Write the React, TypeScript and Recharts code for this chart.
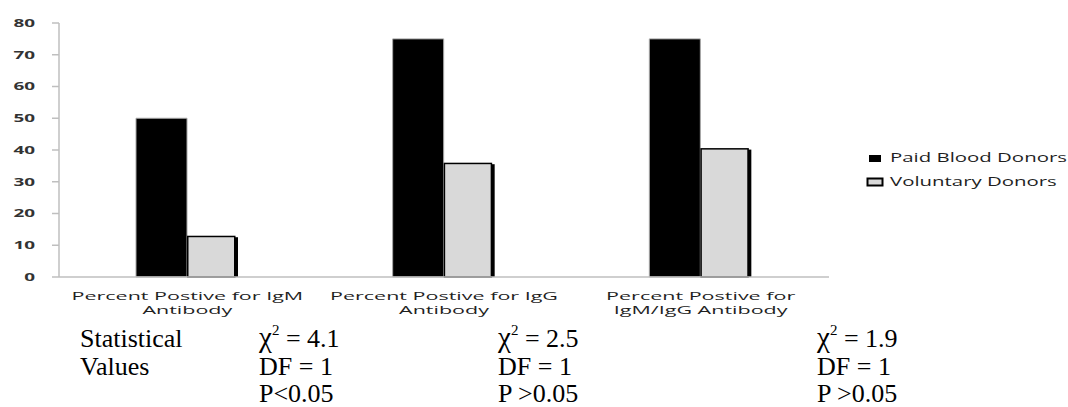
import React from 'react';
import { BarChart, Bar, XAxis, YAxis } from 'recharts';

const categories = [
  'Percent Postive for IgM Antibody',
  'Percent Postive for IgG Antibody',
  'Percent Postive for IgM/IgG Antibody',
];
const categoryLines = [
  ['Percent Postive for IgM', 'Antibody'],
  ['Percent Postive for IgG', 'Antibody'],
  ['Percent Postive for', 'IgM/IgG Antibody'],
];
const seriesNames = ['Paid Blood Donors', 'Voluntary Donors'];
const paidDonors = [50, 75, 75];
const voluntaryDonors = [13, 36, 40.6];
const yTicks = [0, 10, 20, 30, 40, 50, 60, 70, 80];

const statLabels = ['Statistical', 'Values'];
const chiSquare = ['4.1', '2.5', '1.9'];
const degreesOfFreedom = ['1', '1', '1'];
const pValues = ['P<0.05', 'P >0.05', 'P >0.05'];

const data = categories.map((name, i) => ({
  name,
  paid: paidDonors[i],
  voluntary: voluntaryDonors[i],
}));

const sansFont = "'Open Sans', 'DejaVu Sans', sans-serif";
const serifFont = "'Liberation Serif', 'Times New Roman', serif";

const CategoryTick = (props: any) => {
  const { x, y, index, payload } = props;
  const lines = categoryLines[index] ?? [payload.value];
  return (
    <g transform={`translate(${x},${y})`}>
      {lines.map((line: string, i: number) => (
        <text
          key={i}
          x={0}
          y={23 + i * 14}
          transform="scale(1.87,1)"
          textAnchor="middle"
          fontSize={11.5}
          fontFamily={sansFont}
          fill="#1f1f1f"
        >
          {line}
        </text>
      ))}
    </g>
  );
};

const ValueTick = (props: any) => {
  const { x, y, payload } = props;
  return (
    <g transform={`translate(${x},${y})`}>
      <text
        transform="scale(1.8,1)"
        textAnchor="end"
        dy="0.36em"
        fontSize={10.5}
        fontWeight={700}
        fontFamily={sansFont}
        fill="#333"
      >
        {payload.value}
      </text>
    </g>
  );
};

const VoluntaryShape = (props: any) => {
  const { x, y, width, height } = props;
  if (!height || height <= 0) return null;
  return (
    <g>
      <rect
        x={x + 0.75}
        y={y + 0.75}
        width={width - 4}
        height={height - 0.75}
        fill="#d9d9d9"
        stroke="#000"
        strokeWidth={1.5}
      />
      <rect x={x + width - 3.5} y={y + 1.5} width={3.5} height={height - 1.5} fill="#000" />
    </g>
  );
};

// legend and the statistics block sit on top of the chart
const Overlay = () => {
  const columns = [259, 498, 817];
  const rows = [347, 375, 402];
  return (
    <svg
      width={1068}
      height={407}
      style={{ position: 'absolute', left: 0, top: 0, pointerEvents: 'none' }}
    >
      <rect x={869} y={155} width={12} height={7} fill="#000" />
      <rect x={867.5} y={178.5} width={15} height={7} fill="#d9d9d9" stroke="#000" strokeWidth={2} />
      {seriesNames.map((name, i) => (
        <text
          key={name}
          x={0}
          y={162.5 + i * 24}
          transform="translate(890,0) scale(1.7,1)"
          fontSize={12}
          fontFamily={sansFont}
          fill="#1f1f1f"
        >
          {name}
        </text>
      ))}
      <g fontFamily={serifFont} fontSize={26} fill="#000">
        {statLabels.map((label, i) => (
          <text key={label} x={80} y={rows[i]}>
            {label}
          </text>
        ))}
        {columns.map((cx, i) => (
          <g key={i}>
            <text x={cx} y={rows[0]}>
              <tspan fontSize={29}>χ</tspan>
              <tspan dy={-12} fontSize={15}>2</tspan>
              <tspan dy={12}>{` = ${chiSquare[i]}`}</tspan>
            </text>
            <text x={cx} y={rows[1]}>{`DF = ${degreesOfFreedom[i]}`}</text>
            <text x={cx} y={rows[2]}>{pValues[i]}</text>
          </g>
        ))}
      </g>
    </svg>
  );
};

export default function App() {
  return (
    <div style={{ position: 'absolute', left: 0, top: 0, width: 1068, height: 407, background: '#fff' }}>
      <BarChart
        width={1068}
        height={407}
        data={data}
        margin={{ top: 23, right: 239, bottom: 90, left: 0 }}
        barCategoryGap="30%"
        barGap={0}
      >
        <XAxis
          dataKey="name"
          interval={0}
          height={40}
          tickLine={false}
          tickSize={0}
          tickMargin={0}
          axisLine={{ stroke: '#bfbfbf', strokeWidth: 1.5 }}
          tick={<CategoryTick />}
        />
        <YAxis
          width={59}
          domain={[0, 80]}
          ticks={yTicks}
          interval={0}
          tickSize={7}
          tickMargin={17}
          axisLine={{ stroke: '#bfbfbf', strokeWidth: 1.5 }}
          tickLine={{ stroke: '#bfbfbf', strokeWidth: 1.5 }}
          tick={<ValueTick />}
        />
        <Bar
          dataKey="paid"
          name={seriesNames[0]}
          fill="#000"
          stroke="#a6a6a6"
          strokeWidth={1}
          isAnimationActive={false}
        />
        <Bar
          dataKey="voluntary"
          name={seriesNames[1]}
          fill="#d9d9d9"
          shape={<VoluntaryShape />}
          isAnimationActive={false}
        />
      </BarChart>
      <Overlay />
    </div>
  );
}
